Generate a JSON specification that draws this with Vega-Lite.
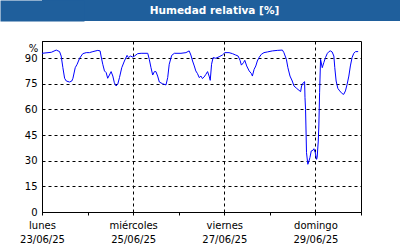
{
  "$schema": "https://vega.github.io/schema/vega-lite/v6.json",
  "padding": 0,
  "background": "white",
  "spacing": 19,
  "config": {
    "view": {"stroke": "black", "strokeWidth": 1},
    "axis": {
      "labelFont": "DejaVu Sans", "labelFontSize": 10, "labelColor": "black",
      "domainColor": "black", "tickColor": "black",
      "gridColor": "black", "gridDash": [3, 3], "gridOpacity": 1,
      "titleFont": "DejaVu Sans", "titleColor": "black"
    }
  },
  "vconcat": [
    {
      "width": 359, "height": 21,
      "view": {"fill": "#1f5f9c", "stroke": null},
      "data": {"values": [{"titulo": "Humedad relativa [%]"}]},
      "mark": {"type": "text", "color": "white", "font": "DejaVu Sans", "fontWeight": "bold", "fontSize": 10.5, "dx": -7, "baseline": "middle"},
      "encoding": {
        "text": {"field": "titulo"},
        "y": {
          "field": "titulo", "type": "nominal",
          "axis": {
            "title": null, "labels": false, "ticks": false,
            "domain": true, "domainColor": "#1f5f9c", "domainWidth": 84, "domainCap": "butt",
            "minExtent": 41, "maxExtent": 41
          }
        }
      }
    },
    {
      "width": 319, "height": 171,
      "data": {"values": [
        {"fecha": "2025-06-23T00:00", "hr": 92.8},
        {"fecha": "2025-06-23T04:54", "hr": 93.4},
        {"fecha": "2025-06-23T07:30", "hr": 94.7},
        {"fecha": "2025-06-23T09:15", "hr": 93.8},
        {"fecha": "2025-06-23T10:06", "hr": 91.2},
        {"fecha": "2025-06-23T11:00", "hr": 84.4},
        {"fecha": "2025-06-23T11:54", "hr": 78.2},
        {"fecha": "2025-06-23T12:48", "hr": 76.6},
        {"fecha": "2025-06-23T14:30", "hr": 76.0},
        {"fecha": "2025-06-23T15:42", "hr": 76.6},
        {"fecha": "2025-06-23T16:18", "hr": 78.2},
        {"fecha": "2025-06-23T17:30", "hr": 84.4},
        {"fecha": "2025-06-23T18:30", "hr": 86.4},
        {"fecha": "2025-06-23T19:48", "hr": 89.9},
        {"fecha": "2025-06-23T21:30", "hr": 92.6},
        {"fecha": "2025-06-23T23:18", "hr": 93.2},
        {"fecha": "2025-06-24T01:00", "hr": 93.2},
        {"fecha": "2025-06-24T02:48", "hr": 93.8},
        {"fecha": "2025-06-24T05:24", "hr": 94.5},
        {"fecha": "2025-06-24T06:36", "hr": 94.2},
        {"fecha": "2025-06-24T07:06", "hr": 91.2},
        {"fecha": "2025-06-24T08:00", "hr": 86.4},
        {"fecha": "2025-06-24T08:54", "hr": 82.5},
        {"fecha": "2025-06-24T09:48", "hr": 81.5},
        {"fecha": "2025-06-24T10:36", "hr": 78.2},
        {"fecha": "2025-06-24T11:30", "hr": 80.1},
        {"fecha": "2025-06-24T12:24", "hr": 82.1},
        {"fecha": "2025-06-24T13:18", "hr": 79.5},
        {"fecha": "2025-06-24T14:06", "hr": 75.6},
        {"fecha": "2025-06-24T15:00", "hr": 73.7},
        {"fecha": "2025-06-24T15:54", "hr": 74.7},
        {"fecha": "2025-06-24T16:48", "hr": 78.6},
        {"fecha": "2025-06-24T18:00", "hr": 84.4},
        {"fecha": "2025-06-24T19:24", "hr": 88.3},
        {"fecha": "2025-06-24T20:48", "hr": 91.6},
        {"fecha": "2025-06-24T21:30", "hr": 90.3},
        {"fecha": "2025-06-24T22:36", "hr": 91.2},
        {"fecha": "2025-06-24T23:48", "hr": 90.6},
        {"fecha": "2025-06-25T00:42", "hr": 91.2},
        {"fecha": "2025-06-25T02:24", "hr": 92.6},
        {"fecha": "2025-06-25T04:12", "hr": 92.8},
        {"fecha": "2025-06-25T07:42", "hr": 92.8},
        {"fecha": "2025-06-25T08:30", "hr": 89.3},
        {"fecha": "2025-06-25T09:24", "hr": 84.4},
        {"fecha": "2025-06-25T10:18", "hr": 80.1},
        {"fecha": "2025-06-25T11:12", "hr": 82.1},
        {"fecha": "2025-06-25T12:00", "hr": 82.1},
        {"fecha": "2025-06-25T12:54", "hr": 79.5},
        {"fecha": "2025-06-25T13:48", "hr": 76.0},
        {"fecha": "2025-06-25T15:30", "hr": 75.0},
        {"fecha": "2025-06-25T17:18", "hr": 74.3},
        {"fecha": "2025-06-25T18:12", "hr": 78.6},
        {"fecha": "2025-06-25T19:00", "hr": 86.4},
        {"fecha": "2025-06-25T20:18", "hr": 91.6},
        {"fecha": "2025-06-25T21:42", "hr": 92.8},
        {"fecha": "2025-06-26T01:12", "hr": 92.8},
        {"fecha": "2025-06-26T03:48", "hr": 93.2},
        {"fecha": "2025-06-26T05:30", "hr": 94.2},
        {"fecha": "2025-06-26T06:24", "hr": 91.8},
        {"fecha": "2025-06-26T07:18", "hr": 88.3},
        {"fecha": "2025-06-26T08:12", "hr": 85.4},
        {"fecha": "2025-06-26T09:00", "hr": 82.5},
        {"fecha": "2025-06-26T09:54", "hr": 80.9},
        {"fecha": "2025-06-26T10:48", "hr": 78.6},
        {"fecha": "2025-06-26T11:42", "hr": 79.5},
        {"fecha": "2025-06-26T12:30", "hr": 78.0},
        {"fecha": "2025-06-26T13:24", "hr": 79.0},
        {"fecha": "2025-06-26T14:18", "hr": 80.5},
        {"fecha": "2025-06-26T15:12", "hr": 82.1},
        {"fecha": "2025-06-26T16:00", "hr": 79.5},
        {"fecha": "2025-06-26T16:36", "hr": 77.0},
        {"fecha": "2025-06-26T17:18", "hr": 86.4},
        {"fecha": "2025-06-26T18:06", "hr": 90.3},
        {"fecha": "2025-06-26T19:30", "hr": 89.9},
        {"fecha": "2025-06-26T21:18", "hr": 90.8},
        {"fecha": "2025-06-26T23:00", "hr": 91.8},
        {"fecha": "2025-06-27T00:18", "hr": 93.2},
        {"fecha": "2025-06-27T02:30", "hr": 93.2},
        {"fecha": "2025-06-27T04:18", "hr": 92.6},
        {"fecha": "2025-06-27T06:00", "hr": 91.8},
        {"fecha": "2025-06-27T07:18", "hr": 91.2},
        {"fecha": "2025-06-27T08:18", "hr": 88.7},
        {"fecha": "2025-06-27T09:00", "hr": 85.9},
        {"fecha": "2025-06-27T10:06", "hr": 87.3},
        {"fecha": "2025-06-27T10:48", "hr": 88.7},
        {"fecha": "2025-06-27T11:48", "hr": 85.4},
        {"fecha": "2025-06-27T13:06", "hr": 82.5},
        {"fecha": "2025-06-27T14:18", "hr": 80.9},
        {"fecha": "2025-06-27T14:48", "hr": 79.5},
        {"fecha": "2025-06-27T15:42", "hr": 83.4},
        {"fecha": "2025-06-27T16:36", "hr": 85.4},
        {"fecha": "2025-06-27T17:24", "hr": 88.3},
        {"fecha": "2025-06-27T18:18", "hr": 90.3},
        {"fecha": "2025-06-27T19:30", "hr": 92.2},
        {"fecha": "2025-06-27T20:54", "hr": 93.2},
        {"fecha": "2025-06-27T22:42", "hr": 93.6},
        {"fecha": "2025-06-28T01:18", "hr": 94.2},
        {"fecha": "2025-06-28T03:54", "hr": 94.5},
        {"fecha": "2025-06-28T06:36", "hr": 94.7},
        {"fecha": "2025-06-28T07:24", "hr": 93.2},
        {"fecha": "2025-06-28T08:42", "hr": 89.3},
        {"fecha": "2025-06-28T09:30", "hr": 84.4},
        {"fecha": "2025-06-28T10:36", "hr": 79.5},
        {"fecha": "2025-06-28T11:48", "hr": 76.6},
        {"fecha": "2025-06-28T12:42", "hr": 73.7},
        {"fecha": "2025-06-28T14:06", "hr": 72.3},
        {"fecha": "2025-06-28T15:18", "hr": 71.2},
        {"fecha": "2025-06-28T16:12", "hr": 70.4},
        {"fecha": "2025-06-28T16:42", "hr": 73.7},
        {"fecha": "2025-06-28T17:36", "hr": 75.6},
        {"fecha": "2025-06-28T18:18", "hr": 76.2},
        {"fecha": "2025-06-28T18:30", "hr": 66.9},
        {"fecha": "2025-06-28T18:48", "hr": 60.0},
        {"fecha": "2025-06-28T19:00", "hr": 50.3},
        {"fecha": "2025-06-28T19:18", "hr": 34.7},
        {"fecha": "2025-06-28T20:00", "hr": 27.9},
        {"fecha": "2025-06-28T20:36", "hr": 29.8},
        {"fecha": "2025-06-28T21:06", "hr": 31.8},
        {"fecha": "2025-06-28T21:48", "hr": 35.7},
        {"fecha": "2025-06-28T22:42", "hr": 36.1},
        {"fecha": "2025-06-28T23:12", "hr": 37.0},
        {"fecha": "2025-06-28T23:54", "hr": 34.7},
        {"fecha": "2025-06-29T00:36", "hr": 30.8},
        {"fecha": "2025-06-29T00:54", "hr": 31.8},
        {"fecha": "2025-06-29T01:30", "hr": 41.5},
        {"fecha": "2025-06-29T01:48", "hr": 50.3},
        {"fecha": "2025-06-29T02:12", "hr": 70.0},
        {"fecha": "2025-06-29T02:42", "hr": 89.3},
        {"fecha": "2025-06-29T03:36", "hr": 84.4},
        {"fecha": "2025-06-29T04:24", "hr": 87.3},
        {"fecha": "2025-06-29T05:18", "hr": 90.3},
        {"fecha": "2025-06-29T06:12", "hr": 92.6},
        {"fecha": "2025-06-29T07:06", "hr": 93.8},
        {"fecha": "2025-06-29T07:54", "hr": 94.2},
        {"fecha": "2025-06-29T08:48", "hr": 93.6},
        {"fecha": "2025-06-29T09:42", "hr": 91.2},
        {"fecha": "2025-06-29T10:12", "hr": 84.4},
        {"fecha": "2025-06-29T10:54", "hr": 76.6},
        {"fecha": "2025-06-29T11:48", "hr": 72.3},
        {"fecha": "2025-06-29T12:48", "hr": 70.8},
        {"fecha": "2025-06-29T14:06", "hr": 69.2},
        {"fecha": "2025-06-29T14:54", "hr": 68.8},
        {"fecha": "2025-06-29T15:48", "hr": 70.8},
        {"fecha": "2025-06-29T16:42", "hr": 74.7},
        {"fecha": "2025-06-29T17:36", "hr": 79.5},
        {"fecha": "2025-06-29T18:24", "hr": 85.4},
        {"fecha": "2025-06-29T19:18", "hr": 90.3},
        {"fecha": "2025-06-29T20:12", "hr": 92.8},
        {"fecha": "2025-06-29T21:06", "hr": 93.8},
        {"fecha": "2025-06-29T22:30", "hr": 93.8}
      ]},
      "mark": {"type": "line", "color": "#0000ff", "strokeWidth": 1},
      "encoding": {
        "x": {
          "field": "fecha", "type": "temporal",
          "scale": {"domain": [{"year": 2025, "month": 6, "date": 23}, {"year": 2025, "month": 6, "date": 30}], "nice": false},
          "axis": {
            "title": null,
            "values": [
              {"year": 2025, "month": 6, "date": 23}, {"year": 2025, "month": 6, "date": 24},
              {"year": 2025, "month": 6, "date": 25}, {"year": 2025, "month": 6, "date": 26},
              {"year": 2025, "month": 6, "date": 27}, {"year": 2025, "month": 6, "date": 28},
              {"year": 2025, "month": 6, "date": 29}, {"year": 2025, "month": 6, "date": 30}
            ],
            "grid": true,
            "gridOpacity": {"condition": {"test": "date(datum.value) % 2 == 0", "value": 0}, "value": 1},
            "tickSize": 3,
            "labelFlush": false, "labelOverlap": false, "labelBound": false,
            "labelPadding": 5, "labelLineHeight": 14, "labelBaseline": "top",
            "labelExpr": "date(datum.value) % 2 == 1 ? [['domingo','lunes','martes','miércoles','jueves','viernes','sábado'][day(datum.value)], timeFormat(datum.value, '%d/%m/%y')] : ''"
          }
        },
        "y": {
          "field": "hr", "type": "quantitative",
          "scale": {"domain": [0, 100], "nice": false},
          "axis": {
            "values": [0, 15, 30, 45, 60, 75, 90],
            "ticks": false, "tickSize": 0, "labelPadding": 5,
            "grid": true,
            "title": "%", "titleAngle": 0, "titleX": -9, "titleY": 10,
            "titleAlign": "center", "titleBaseline": "alphabetic",
            "titleFontWeight": "normal", "titleFontSize": 10,
            "minExtent": 41
          }
        }
      }
    }
  ]
}
